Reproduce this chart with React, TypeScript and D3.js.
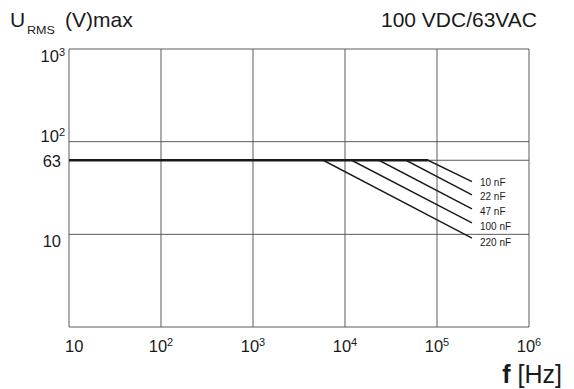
import React from "react";
import * as d3 from "d3";

const xTicks = [10, 100, 1000, 10000, 100000, 1000000];
const xTickBase = ["10", "10", "10", "10", "10", "10"];
const xTickSup = ["", "2", "3", "4", "5", "6"];
const yTicks = [1000, 100, 63, 10];
const yTickBase = ["10", "10", "63", "10"];
const yTickSup = ["3", "2", "", ""];
const gridY = [1, 10, 63, 100, 1000];

const seriesNames = ["10 nF", "22 nF", "47 nF", "100 nF", "220 nF"];
const ratedVoltage = 63;
const startFreq = 10;
const breakFreq = [80000, 46000, 23400, 11800, 5800];
const endFreq = [240000, 240000, 240000, 240000, 240000];
const endVoltage = [37, 26.6, 18.8, 13.3, 9.1];

const W = 574;
const H = 389;
const FONT = "Liberation Sans, Arial, Helvetica, sans-serif";

export default function App() {
  const x = d3.scaleLog().domain([10, 1e6]).range([69, 529]);
  const y = d3.scaleLog().domain([1, 1000]).range([327, 49]);
  const line = d3
    .line<[number, number]>()
    .x((d) => x(d[0]))
    .y((d) => y(d[1]));

  const yLabelDy = [13, 0, 7, 13];

  return (
    <svg
      width={W}
      height={H}
      style={{ position: "absolute", left: 0, top: 0, background: "#fff" }}
      fontFamily={FONT}
    >
      <rect x={0} y={0} width={W} height={H} fill="#fff" />
      {xTicks.map((t, i) => (
        <line key={"gx" + i} x1={x(t)} x2={x(t)} y1={y(1000)} y2={y(1)} stroke="#5a5a5a" strokeWidth={1} />
      ))}
      {gridY.map((t, i) => (
        <line key={"gy" + i} x1={x(10)} x2={x(1e6)} y1={y(t)} y2={y(t)} stroke="#5a5a5a" strokeWidth={1} />
      ))}
      {seriesNames.map((n, i) => (
        <path
          key={"s" + i}
          d={line([
            [startFreq, ratedVoltage],
            [breakFreq[i], ratedVoltage],
            [endFreq[i], endVoltage[i]],
          ]) || ""}
          fill="none"
          stroke="#1a1a1a"
          strokeWidth={1.4}
        />
      ))}
      <path
        d={line([
          [startFreq, ratedVoltage],
          [d3.max(breakFreq) as number, ratedVoltage],
        ]) || ""}
        fill="none"
        stroke="#1a1a1a"
        strokeWidth={2.6}
      />
      {seriesNames.map((n, i) => (
        <text
          key={"l" + i}
          x={x(endFreq[i]) + 8}
          y={y(endVoltage[i]) + 2 + i * 0.8}
          fontSize={10}
          dominantBaseline="middle"
          fill="#1a1a1a"
        >
          {n}
        </text>
      ))}
      {xTicks.map((t, i) =>
        xTickSup[i] ? (
          <text key={"xt" + i} x={x(t)} y={352} fontSize={16.5} textAnchor="middle" fill="#1a1a1a">
            <tspan>{xTickBase[i]}</tspan>
            <tspan fontSize={11} dy={-6}>{xTickSup[i]}</tspan>
          </text>
        ) : (
          <text key={"xt" + i} x={x(t) - 4} y={352} fontSize={16.5} textAnchor="start" fill="#1a1a1a">
            {xTickBase[i]}
          </text>
        )
      )}
      {yTicks.map((t, i) =>
        yTickSup[i] ? (
          <text key={"yt" + i} x={65} y={y(t) + yLabelDy[i]} fontSize={16.5} textAnchor="end" fill="#1a1a1a">
            <tspan>{yTickBase[i]}</tspan>
            <tspan fontSize={11} dy={-6}>{yTickSup[i]}</tspan>
          </text>
        ) : (
          <text key={"yt" + i} x={61} y={y(t) + yLabelDy[i]} fontSize={16.5} textAnchor="end" fill="#1a1a1a">
            {yTickBase[i]}
          </text>
        )
      )}
      <text x={10} y={27} fontSize={21} fill="#1a1a1a">U</text>
      <text x={27} y={34} fontSize={10.5} fill="#1a1a1a" textLength={28} lengthAdjust="spacingAndGlyphs">RMS</text>
      <text x={65} y={27} fontSize={21} fill="#1a1a1a">(V)max</text>
      <text x={537} y={27} fontSize={21} textAnchor="end" fill="#1a1a1a">100 VDC/63VAC</text>
      <text x={562} y={383} fontSize={25} textAnchor="end" fill="#1a1a1a">
        <tspan fontWeight="bold">f</tspan>
        <tspan> [Hz]</tspan>
      </text>
    </svg>
  );
}
